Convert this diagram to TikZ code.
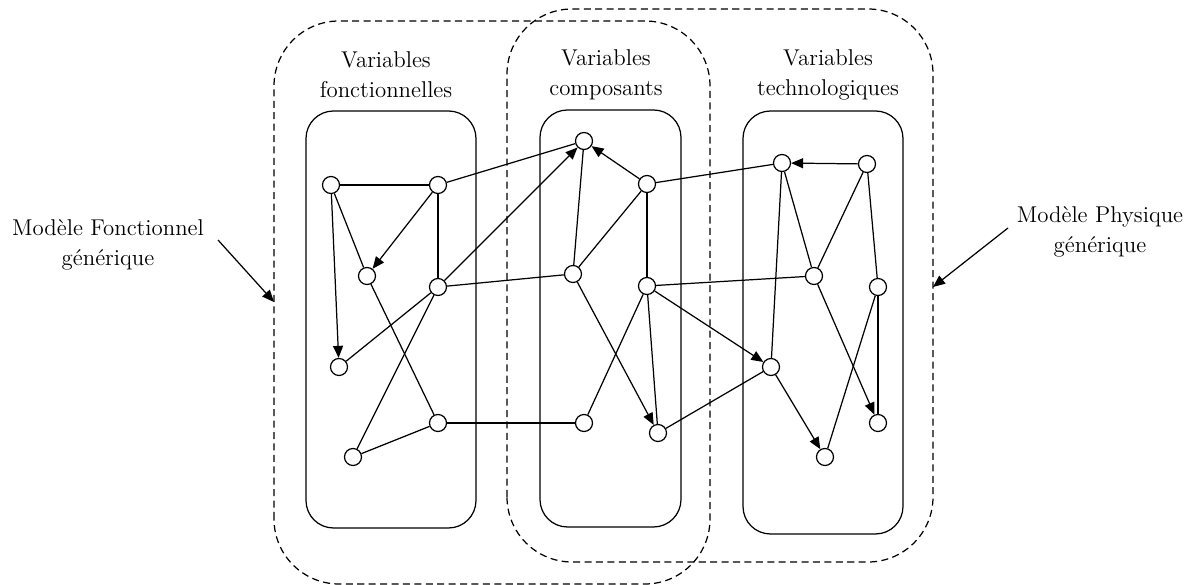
\documentclass[tikz,border=0pt]{standalone}
\usepackage{amssymb}
\usepackage{pgf, tikz}
\usetikzlibrary{arrows.meta}
\pgfdeclarelayer{edgelayer}
\pgfdeclarelayer{nodelayer}
\pgfsetlayers{edgelayer,nodelayer,main}
\tikzstyle{edge}=[draw=black, line width=0.7pt]
\tikzstyle{arc}=[edge, -{Triangle[length=2.4mm,width=2mm]}]
\tikzstyle{vertex}=[circle, fill=white, draw=black, line width=0.7pt, minimum size=0.34cm, inner sep=0pt]
\tikzstyle{group}=[draw=black, line width=0.7pt, rounded corners=0.55cm]
\tikzstyle{model}=[draw=black, line width=0.7pt, dash pattern=on 4pt off 2.5pt, rounded corners=1.3cm]
\tikzstyle{heading}=[align=center, font=\fontsize{13}{17}\selectfont]

\begin{document}
\begin{tikzpicture}
				\useasboundingbox (0, 0) rectangle (23.92, 11.7);
				\begin{pgfonlayer}{nodelayer}
					\node [style=vertex] (1) at (6.62, 8.00) {};
					\node [style=vertex] (2) at (8.76, 8.00) {};
					\node [style=vertex] (3) at (7.34, 6.18) {};
					\node [style=vertex] (4) at (8.76, 5.96) {};
					\node [style=vertex] (5) at (6.78, 4.36) {};
					\node [style=vertex] (6) at (8.76, 3.24) {};
					\node [style=vertex] (7) at (7.06, 2.56) {};
					\node [style=vertex] (8) at (11.68, 8.88) {};
					\node [style=vertex] (9) at (12.94, 8.02) {};
					\node [style=vertex] (10) at (11.46, 6.22) {};
					\node [style=vertex] (11) at (12.94, 5.98) {};
					\node [style=vertex] (12) at (11.68, 3.24) {};
					\node [style=vertex] (13) at (13.16, 3.04) {};
					\node [style=vertex] (14) at (15.64, 8.44) {};
					\node [style=vertex] (15) at (17.34, 8.42) {};
					\node [style=vertex] (16) at (16.28, 6.18) {};
					\node [style=vertex] (17) at (17.56, 5.96) {};
					\node [style=vertex] (18) at (15.42, 4.36) {};
					\node [style=vertex] (19) at (17.56, 3.24) {};
					\node [style=vertex] (20) at (16.50, 2.56) {};
					\node [style=heading] (fct) at (7.72, 10.20) {Variables\\fonctionnelles};
					\node [style=heading] (cmp) at (12.12, 10.20) {Variables\\composants};
					\node [style=heading] (tec) at (16.56, 10.20) {Variables\\technologiques};
					\node [style=heading] (mfg) at (2.16, 6.80) {Modèle Fonctionnel\\générique};
					\node [style=heading] (mpg) at (22.00, 7.06) {Modèle Physique\\générique};
					\coordinate (mfg0) at (4.36, 6.90);
					\coordinate (mfg1) at (5.48, 5.66);
					\coordinate (mpg0) at (20.16, 7.14);
					\coordinate (mpg1) at (18.66, 5.96);
				\end{pgfonlayer}
				\begin{pgfonlayer}{edgelayer}
					\draw [style=model] (5.48, 0.02) rectangle (14.20, 11.28);
					\draw [style=model] (10.14, 0.46) rectangle (18.66, 11.52);
					\draw [style=group] (6.12, 1.14) rectangle (9.52, 9.48);
					\draw [style=group] (10.80, 1.16) rectangle (13.62, 9.50);
					\draw [style=group] (14.86, 1.02) rectangle (18.06, 9.48);
					\draw [style=arc] (mfg0) to (mfg1);
					\draw [style=arc] (mpg0) to (mpg1);
					\draw [style=edge] (1) to (2);
					\draw [style=arc] (1) to (5);
					\draw [style=edge] (1) to (3);
					\draw [style=arc] (2) to (3);
					\draw [style=edge] (2) to (4);
					\draw [style=edge] (2) to (8);
					\draw [style=edge] (3) to (6);
					\draw [style=arc] (4) to (8);
					\draw [style=edge] (4) to (5);
					\draw [style=edge] (4) to (10);
					\draw [style=edge] (4) to (7);
					\draw [style=edge] (6) to (7);
					\draw [style=edge] (6) to (12);
					\draw [style=arc] (9) to (8);
					\draw [style=edge] (8) to (10);
					\draw [style=edge] (9) to (10);
					\draw [style=edge] (9) to (11);
					\draw [style=edge] (9) to (14);
					\draw [style=arc] (10) to (13);
					\draw [style=edge] (11) to (12);
					\draw [style=edge] (11) to (13);
					\draw [style=edge] (11) to (16);
					\draw [style=arc] (11) to (18);
					\draw [style=edge] (13) to (18);
					\draw [style=arc] (15) to (14);
					\draw [style=edge] (14) to (16);
					\draw [style=edge] (14) to (18);
					\draw [style=edge] (15) to (16);
					\draw [style=edge] (15) to (17);
					\draw [style=arc] (16) to (19);
					\draw [style=edge] (17) to (19);
					\draw [style=edge] (17) to (20);
					\draw [style=arc] (18) to (20);
				\end{pgfonlayer}
			\end{tikzpicture}
\end{document}
